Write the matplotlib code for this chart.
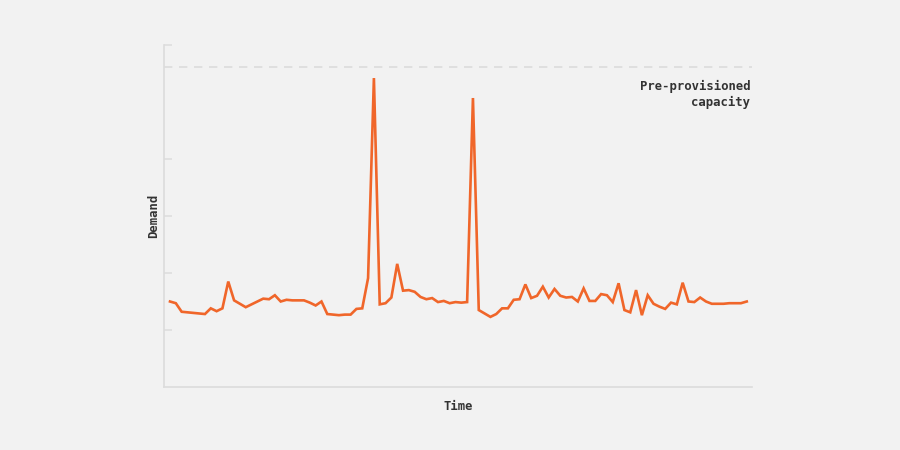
import numpy as np
import matplotlib.pyplot as plt

# demand samples over time (arbitrary units)
demand = [
    1.50, 1.47, 1.32, 1.31, 1.30, 1.29, 1.28, 1.38, 1.33, 1.38,
    1.85, 1.52, 1.46, 1.40, 1.45, 1.50, 1.55, 1.54, 1.61, 1.50,
    1.53, 1.52, 1.52, 1.52, 1.48, 1.43, 1.50, 1.28, 1.27, 1.26,
    1.27, 1.27, 1.37, 1.38, 1.91, 5.42, 1.45, 1.47, 1.57, 2.16,
    1.69, 1.70, 1.67, 1.58, 1.54, 1.56, 1.49, 1.51, 1.47, 1.49,
    1.48, 1.49, 5.07, 1.35, 1.29, 1.23, 1.28, 1.38, 1.38, 1.53,
    1.54, 1.80, 1.56, 1.60, 1.76, 1.57, 1.72, 1.60, 1.57, 1.58,
    1.50, 1.73, 1.51, 1.51, 1.63, 1.61, 1.49, 1.82, 1.35, 1.31,
    1.70, 1.26, 1.61, 1.46, 1.41, 1.37, 1.48, 1.45, 1.83, 1.50,
    1.49, 1.57, 1.50, 1.46, 1.46, 1.46, 1.47, 1.47, 1.47, 1.50,
]
time = np.arange(len(demand))
capacity = 5.61
capacity_label = "Pre-provisioned\ncapacity"

bg = "#f2f2f2"
grey = "#dcdcdc"
orange = "#f0662a"
ink = "#333333"
font = "DejaVu Sans Mono"

fig = plt.figure(figsize=(9, 4.5), dpi=100, facecolor=bg)
ax = fig.add_axes([164/900, 63/450, 588/900, 342/450], facecolor=bg)

ax.axhline(capacity, color=grey, lw=1.2, ls=(0, (5, 4)), zorder=1)
ax.plot(time, demand, color=orange, lw=1.9, solid_joinstyle="miter", zorder=3)

ax.text(99.6, 5.38, capacity_label, ha="right", va="top", color=ink,
        fontsize=8.8, fontweight="bold", family=font, linespacing=1.25)

ax.set_xlim(-1.03, 99.9)
ax.set_ylim(0, 6)
ax.set_xticks([])
ax.set_yticks([1, 2, 3, 4, 6])
ax.set_yticklabels([])
ax.tick_params(axis="y", direction="in", length=6, width=1.1, color=grey, pad=0)

for side in ["top", "right"]:
    ax.spines[side].set_visible(False)
for side in ["left", "bottom"]:
    ax.spines[side].set_color(grey)
    ax.spines[side].set_linewidth(1.2)

ax.set_xlabel("Time", fontsize=8.8, fontweight="bold", family=font, color=ink, labelpad=9)
ax.set_ylabel("Demand", fontsize=8.8, fontweight="bold", family=font, color=ink, labelpad=3)

fig.savefig("out.png", dpi=100, facecolor=bg)
